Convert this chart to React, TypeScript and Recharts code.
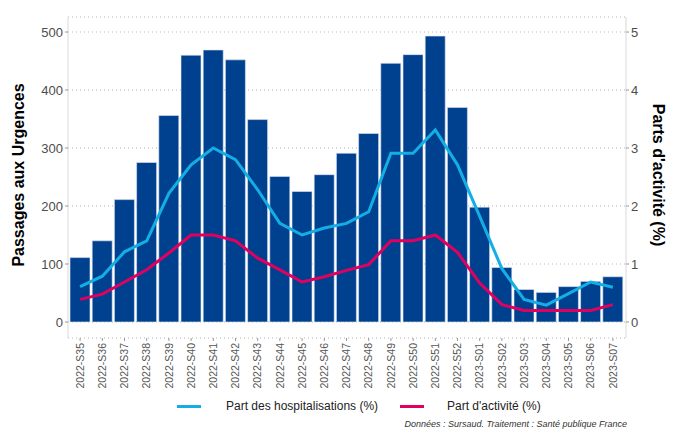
import React from 'react';
import { ComposedChart, Bar, Line, XAxis, YAxis, CartesianGrid, Legend } from 'recharts';

const categories = [
  '2022-S35', '2022-S36', '2022-S37', '2022-S38', '2022-S39', '2022-S40', '2022-S41',
  '2022-S42', '2022-S43', '2022-S44', '2022-S45', '2022-S46', '2022-S47', '2022-S48',
  '2022-S49', '2022-S50', '2022-S51', '2022-S52', '2023-S01', '2023-S02', '2023-S03',
  '2023-S04', '2023-S05', '2023-S06', '2023-S07',
];
const passages = [111, 140, 211, 275, 356, 460, 469, 452, 349, 251, 225, 254, 291, 325, 446, 461, 493, 370, 198, 94, 56, 51, 61, 70, 78];
const partHospitalisations = [0.61, 0.79, 1.21, 1.4, 2.22, 2.71, 3.0, 2.8, 2.28, 1.7, 1.5, 1.62, 1.7, 1.9, 2.91, 2.91, 3.31, 2.71, 1.82, 0.92, 0.39, 0.29, 0.49, 0.69, 0.6];
const partActivite = [0.39, 0.48, 0.69, 0.9, 1.19, 1.5, 1.5, 1.4, 1.1, 0.9, 0.69, 0.78, 0.89, 0.99, 1.4, 1.4, 1.5, 1.2, 0.67, 0.3, 0.2, 0.2, 0.2, 0.2, 0.3];
const leftTicks = [0, 100, 200, 300, 400, 500];
const rightTicks = [0, 1, 2, 3, 4, 5];

const data = categories.map((c, i) => ({
  semaine: c,
  passages: passages[i],
  hosp: partHospitalisations[i],
  activite: partActivite[i],
}));

const FONT = '"Liberation Sans", Arial, sans-serif';
const BAR = '#00418F';
const CYAN = '#14AEE6';
const PINK = '#E2005F';

const XTick = (props: any) => {
  const { x, y, payload } = props;
  return (
    <text
      x={x}
      y={y}
      transform={`rotate(-90, ${x}, ${y})`}
      textAnchor="end"
      dy="0.35em"
      fontSize={10.5}
      fill="#555555"
      fontFamily={FONT}
    >
      {payload.value}
    </text>
  );
};

const LegendContent = () => (
  <div style={{ position: 'relative', width: 678, height: 24, fontFamily: FONT, fontSize: 12, color: '#222' }}>
    <div style={{ position: 'absolute', left: 177, top: 10, width: 24, height: 3, background: CYAN }} />
    <div style={{ position: 'absolute', left: 226, top: 4, lineHeight: '14px' }}>Part des hospitalisations (%)</div>
    <div style={{ position: 'absolute', left: 400, top: 10, width: 24, height: 3, background: PINK }} />
    <div style={{ position: 'absolute', left: 447, top: 4, lineHeight: '14px' }}>Part d'activité (%)</div>
  </div>
);

export default function App() {
  return (
    <div style={{ position: 'absolute', left: 0, top: 0, width: 678, height: 433, background: '#fff' }}>
      <ComposedChart
        width={678}
        height={433}
        data={data}
        margin={{ top: 17, right: 12, bottom: 35, left: 28 }}
      >
        <CartesianGrid
          yAxisId="left"
          horizontal
          vertical={false}
          stroke="#b5b5b5"
          strokeDasharray="1 3"
        />
        <XAxis
          dataKey="semaine"
          axisLine={false}
          tickLine={{ stroke: '#999' }}
          tickSize={3}
          tickMargin={2}
          interval={0}
          height={60}
          padding={{ left: 1, right: 2 }}
          tick={<XTick />}
        />
        <YAxis
          yAxisId="left"
          orientation="left"
          width={40}
          domain={[-27.6, 525.9]}
          ticks={leftTicks}
          allowDataOverflow
          axisLine={{ stroke: '#d9d9d9' }}
          tickLine={{ stroke: '#999' }}
          tickSize={3}
          tickMargin={2}
          tick={{ fontSize: 13, fill: '#4d4d4d', fontFamily: FONT }}
        />
        <YAxis
          yAxisId="right"
          orientation="right"
          width={40}
          domain={[-0.276, 5.259]}
          ticks={rightTicks}
          allowDataOverflow
          axisLine={{ stroke: '#d9d9d9' }}
          tickLine={{ stroke: '#999' }}
          tickSize={3}
          tickMargin={2}
          tick={{ fontSize: 13, fill: '#4d4d4d', fontFamily: FONT }}
        />
        <Bar
          yAxisId="left"
          dataKey="passages"
          fill={BAR}
          stroke="#dfe6f0"
          strokeWidth={0.6}
          barSize={20}
          isAnimationActive={false}
        />
        <Line
          yAxisId="right"
          dataKey="hosp"
          type="linear"
          stroke={CYAN}
          strokeWidth={3}
          dot={false}
          activeDot={false}
          isAnimationActive={false}
        />
        <Line
          yAxisId="right"
          dataKey="activite"
          type="linear"
          stroke={PINK}
          strokeWidth={3}
          dot={false}
          activeDot={false}
          isAnimationActive={false}
        />
        <Legend
          layout="horizontal"
          verticalAlign="middle"
          align="center"
          content={<LegendContent />}
          wrapperStyle={{ position: 'absolute', top: 395, left: 0, width: 678, height: 24 }}
        />
      </ComposedChart>
      <svg
        width={678}
        height={433}
        style={{ position: 'absolute', left: 0, top: 0, pointerEvents: 'none' }}
      >
        <text
          x={18}
          y={175}
          transform="rotate(-90, 18, 175)"
          textAnchor="middle"
          dominantBaseline="central"
          fontSize={16}
          fontWeight="bold"
          fontFamily={FONT}
          fill="#000"
        >
          Passages aux Urgences
        </text>
        <text
          x={658}
          y={175}
          transform="rotate(90, 658, 175)"
          textAnchor="middle"
          dominantBaseline="central"
          fontSize={16}
          fontWeight="bold"
          fontFamily={FONT}
          fill="#000"
        >
          Parts d'activité (%)
        </text>
        <text
          x={627}
          y={426.5}
          textAnchor="end"
          fontSize={9}
          fontStyle="italic"
          fontFamily={FONT}
          fill="#333"
        >
          Données : Sursaud. Traitement : Santé publique France
        </text>
      </svg>
    </div>
  );
}
